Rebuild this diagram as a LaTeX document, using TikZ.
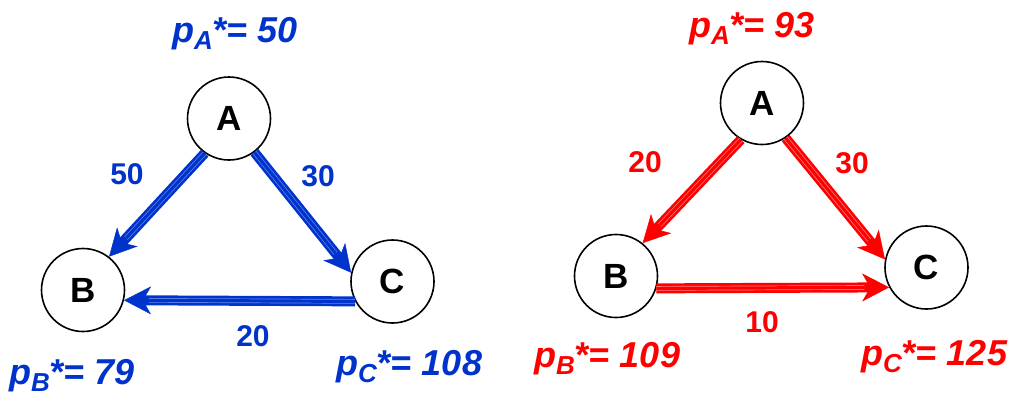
\documentclass[tikz,border=0pt]{standalone}
\usepackage{fontspec}
\setmainfont{Liberation Sans}
\usetikzlibrary{arrows.meta}
\definecolor{bl}{RGB}{0,51,204}
\definecolor{bllight}{RGB}{100,135,235}
\definecolor{rd}{RGB}{255,0,0}
\definecolor{rdlight}{RGB}{255,130,130}
\tikzset{
 vert/.style={circle, draw=black, line width=1.6pt, minimum size=83pt, inner sep=0pt,
   font=\fontsize{35}{35}\selectfont\bfseries},
 shaft/.style={line width=10pt, -{Stealth[length=27pt,width=28pt,inset=8pt,line width=0.5pt]}},
 stripes/.style={line width=0.7pt, double distance=3.2pt, shorten >=25pt},
 elab/.style={font=\fontsize{30}{30}\selectfont\bfseries, inner sep=0pt},
 plab/.style={font=\fontsize{36}{36}\selectfont\bfseries\itshape, inner sep=0pt, anchor=base west},
}
\newcommand\flowedge[4]{%
 \draw[shaft,draw=#1] (#3) -- (#4);
 \draw[stripes,draw=#2,double=#1] (#3) -- (#4);
}
\newcommand\plabtext[2]{p\raisebox{-0.2em}{\fontsize{26}{26}\selectfont #1}*= #2}
\begin{document}
\begin{tikzpicture}[x=1pt,y=-1pt]
\useasboundingbox (0,0) rectangle (1014,394);
% left graph
\node[vert] (A1) at (229,118.5) {A};
\node[vert] (B1) at (83,290) {B};
\node[vert] (C1) at (392.5,281.5) {C};
% right graph
\node[vert] (A2) at (762,103) {A};
\node[vert] (B2) at (616,276) {B};
\node[vert] (C2) at (926.5,267.5) {C};
% edges
\flowedge{bl}{bllight}{A1.-125}{B1.52}
\flowedge{bl}{bllight}{A1.-53}{C1.168}
\flowedge{bl}{bllight}{C1.208}{B1.-14}
\flowedge{rd}{rdlight}{A2.-120}{B2.51}
\flowedge{rd}{rdlight}{A2.-56}{C2.169}
\flowedge{rd}{rdlight}{B2.-17}{C2.208}
% edge labels
\node[elab, text=bl] (l50) at (127,174) {50};
\node[elab, text=bl] (l30) at (318,176) {30};
\node[elab, text=bl] (l20) at (253,336) {20};
\node[elab, text=rd] (r20) at (645,162) {20};
\node[elab, text=rd] (r30) at (852,163) {30};
\node[elab, text=rd] (r10) at (762,322) {10};
% price labels
\node[plab, text=bl] (pA1) at (172,42) {\plabtext{A}{50}};
\node[plab, text=bl] (pB1) at (9,384) {\plabtext{B}{79}};
\node[plab, text=bl] (pC1) at (336,375) {\plabtext{C}{108}};
\node[plab, text=rd] (pA2) at (689,37) {\plabtext{A}{93}};
\node[plab, text=rd] (pB2) at (534,367) {\plabtext{B}{109}};
\node[plab, text=rd] (pC2) at (861,365) {\plabtext{C}{125}};
\end{tikzpicture}
\end{document}
